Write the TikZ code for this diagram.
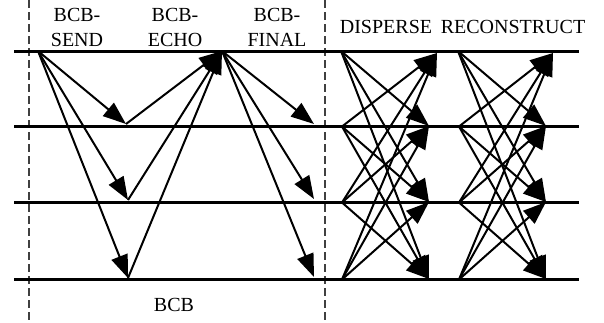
\documentclass[tikz,border=0pt]{standalone}
\usepackage{fontspec}
\setmainfont{Liberation Serif}
\usetikzlibrary{arrows.meta}
\begin{document}
\begin{tikzpicture}[x=1pt,y=-1pt,
  lane/.style={line width=2.3pt},
  msg/.style={line width=2pt,-{Triangle[length=23pt,width=17pt]}},
  sep/.style={line width=1.1pt,dash pattern=on 8pt off 4pt,black!75},
  lbl/.style={font=\fontsize{20}{25}\selectfont,inner sep=0pt,align=center}]
\useasboundingbox (0,0) rectangle (604,322);
% separators
\coordinate (s1t) at (29,0); \coordinate (s1b) at (29,322);
\coordinate (s2t) at (325,0); \coordinate (s2b) at (325,322);
\draw[sep] (s1t) -- (s1b);
\draw[sep] (s2t) -- (s2b);
% lanes
\foreach \i/\y in {1/51.5,2/126.5,3/202.5,4/279.5}{
  \coordinate (la\i) at (14,\y);
  \coordinate (lb\i) at (579,\y);
  \draw[lane] (la\i) -- (lb\i);
}
% labels
\node[lbl] (tsend) at (77,27) {BCB-\\SEND};
\node[lbl] (techo) at (175,27) {BCB-\\ECHO};
\node[lbl] (tfinal) at (277,27) {BCB-\\FINAL};
\node[lbl] (tdisp) at (386,27) {DISPERSE};
\node[lbl] (trec) at (513,27) {RECONSTRUCT};
\node[lbl] (tbcb) at (174,305) {BCB};
% BCB
\coordinate (send) at (38,51);
\coordinate (e2) at (126,124);
\coordinate (e3) at (128,200);
\coordinate (e4) at (128,278);
\coordinate (echo) at (222,51);
\coordinate (f2) at (314,124);
\coordinate (f3) at (314,199);
\coordinate (f4) at (314,277);
\foreach \k in {2,3,4}{
  \draw[msg] (send) -- (e\k);
  \draw[msg] (e\k) -- (echo);
  \draw[msg] (echo) -- (f\k);
}
% DISPERSE and RECONSTRUCT
\foreach \p/\xl/\xr/\xt in {d/341/429/437, r/458/546/553}{
  \coordinate (\p L1) at (\xl,51);
  \coordinate (\p L2) at (\xl+1,126.5);
  \coordinate (\p L3) at (\xl+1,202.5);
  \coordinate (\p L4) at (\xl+1,279.5);
  \coordinate (\p R1) at (\xt,53);
  \coordinate (\p R2) at (\xr,126);
  \coordinate (\p R3) at (\xr,202);
  \coordinate (\p R4) at (\xr,279);
  \foreach \i in {1,2,3,4}{
    \foreach \j in {1,2,3,4}{
      \ifnum\i=\j\else
        \draw[msg] (\p L\i) -- (\p R\j);
      \fi
    }
  }
}
\end{tikzpicture}
\end{document}
